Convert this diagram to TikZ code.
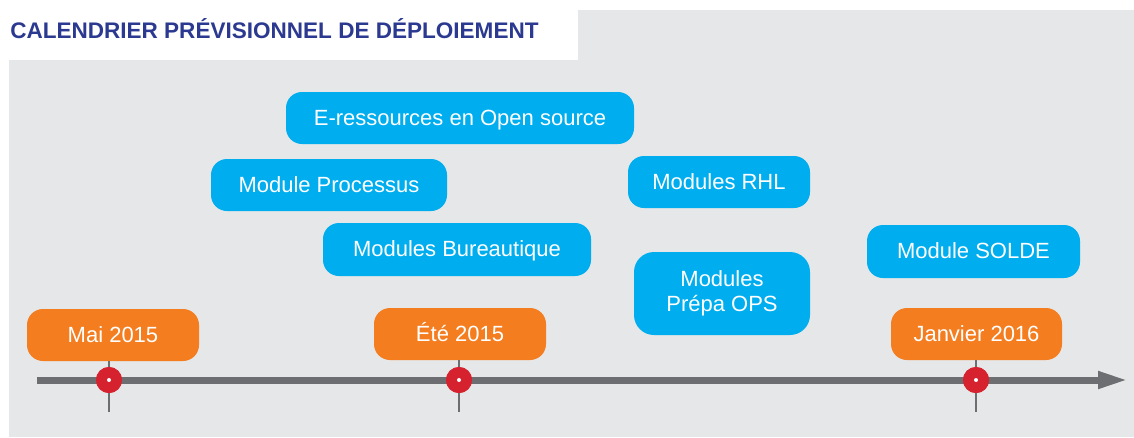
\documentclass[tikz,border=0pt]{standalone}
\usepackage{fontspec}
\setmainfont{Liberation Sans}
\usetikzlibrary{arrows.meta}
\definecolor{fond}{RGB}{230,231,232}
\definecolor{titre}{RGB}{43,57,144}
\definecolor{axe}{RGB}{109,110,113}
\definecolor{jalonrouge}{RGB}{214,33,46}
\definecolor{orange}{RGB}{244,125,32}
\definecolor{bleu}{RGB}{0,174,239}
\begin{document}
\begin{tikzpicture}
[x=0.75pt,y=-0.75pt,
 boite/.style={rectangle,rounded corners=12pt,inner sep=0pt,text=white,
   minimum height=39pt,text height=15pt,text depth=4pt,
   font=\fontsize{16.5}{18.75}\selectfont},
 bleue/.style={boite,fill=bleu},
 date/.style={boite,fill=orange},
 jalon/.style={circle,inner sep=0pt,minimum size=19.5pt,fill=jalonrouge},
 tige/.style={axe,line width=1.5pt}]
\useasboundingbox (0,0) rectangle (1134,437);
\fill[fond] (578,10) rectangle (1134,437);
\fill[fond] (9,60) rectangle (1134,437);
\node[anchor=base west,inner sep=0pt,text=titre,font=\fontsize{16.9}{18}\selectfont\bfseries] (titre) at (10,38) {CALENDRIER PRÉVISIONNEL DE DÉPLOIEMENT};

% axe du temps
\coordinate (debut) at (37,380);
\coordinate (fin) at (1128,380);
\draw[axe,line width=5.25pt,-{Triangle[length=22.5pt,width=12pt]}] (debut) -- (fin);

% dates
\node[date,minimum width=129pt] (mai) at (113,335) {Mai 2015};
\node[date,minimum width=129pt] (ete) at (460,334) {Été 2015};
\node[date,minimum width=128.25pt] (jan) at (976.5,334) {Janvier 2016};

% jalons
\node[jalon] (j1) at (109,380) {};
\node[jalon] (j2) at (459,380) {};
\node[jalon] (j3) at (976,380) {};
\coordinate (b1) at (109,412);
\coordinate (b2) at (459,412);
\coordinate (b3) at (976,412);
\draw[tige] (j1 |- mai.south) -- (b1);
\draw[tige] (j2 |- ete.south) -- (b2);
\draw[tige] (j3 |- jan.south) -- (b3);
\foreach \j in {j1,j2,j3}{
  \node[jalon] at (\j) {};
  \fill[white] (\j) circle (1.5pt);
}

% modules
\node[bleue,minimum width=261pt] (eres) at (460,118) {E-ressources en Open source};
\node[bleue,minimum width=177pt] (proc) at (329,185) {Module Processus};
\node[bleue,minimum width=201pt,minimum height=39.75pt] (bur) at (457,249.5) {Modules Bureautique};
\node[bleue,minimum width=136.5pt] (rhl) at (719,182) {Modules RHL};
\node[bleue,minimum width=132pt,minimum height=62.25pt,rounded corners=15pt,
  text height=,text depth=,align=center] (ops) at (722,293.5) {Modules\\Prépa OPS};
\node[bleue,minimum width=159.75pt,minimum height=39.75pt] (solde) at (973.5,251.5) {Module SOLDE};
\end{tikzpicture}
\end{document}
